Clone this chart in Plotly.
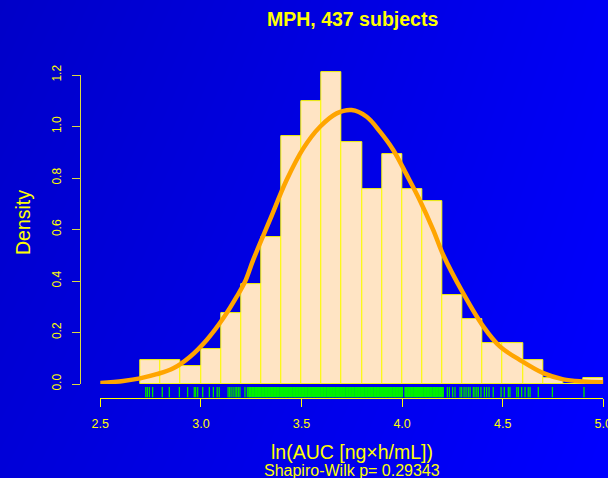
import plotly.graph_objects as go

# ---- data ----
bin_left = [2.7, 2.8, 2.9, 3.0, 3.1, 3.2, 3.3, 3.4, 3.5, 3.6, 3.7, 3.8,
            3.9, 4.0, 4.1, 4.2, 4.3, 4.4, 4.5, 4.6, 4.7, 4.8, 4.9]
bin_counts = [4, 4, 3, 6, 12, 17, 25, 42, 48, 53, 41, 33,
              39, 33, 31, 15, 11, 7, 7, 4, 1, 0, 1]
n_subjects = 437
bin_width = 0.1

density_x = [2.49, 2.614, 2.697, 2.78, 2.863, 2.946, 3.029, 3.111, 3.178, 3.219,
             3.26, 3.343, 3.426, 3.509, 3.592, 3.675, 3.749, 3.824, 3.89, 3.956,
             4.023, 4.089, 4.155, 4.205, 4.304, 4.404, 4.487, 4.586, 4.702, 4.801,
             4.901, 5.0]
density_y = [0.003, 0.012, 0.022, 0.038, 0.061, 0.106, 0.171, 0.255, 0.339, 0.397,
             0.482, 0.637, 0.792, 0.915, 0.999, 1.051, 1.064, 1.038, 0.98, 0.909,
             0.812, 0.712, 0.598, 0.5, 0.352, 0.223, 0.145, 0.093, 0.042, 0.018,
             0.01, 0.007]

rug_sparse = [2.726, 2.734, 2.744, 2.760, 2.808, 2.843, 2.893, 2.934, 2.967, 2.974,
              2.984, 3.009, 3.042, 3.062, 3.081, 3.091, 3.135, 3.142, 3.150, 3.160,
              3.170, 3.178, 3.186, 3.194, 3.219, 3.231,
              4.205, 4.225, 4.235, 4.251, 4.263, 4.288, 4.296, 4.308, 4.318, 4.329,
              4.338, 4.354, 4.362, 4.371, 4.379, 4.392, 4.409, 4.420, 4.432, 4.453,
              4.492, 4.508, 4.528, 4.536, 4.570, 4.578, 4.594, 4.611, 4.627, 4.636,
              4.677, 4.747, 4.904]
rug_dense = [3.240, 3.247, 3.255, 3.262, 3.270, 3.276, 3.284, 3.291, 3.298, 3.306,
             3.313, 3.321, 3.328, 3.335, 3.343, 3.350, 3.357, 3.364, 3.372, 3.379,
             3.386, 3.394, 3.401, 3.408, 3.416, 3.423, 3.430, 3.438, 3.445, 3.452,
             3.460, 3.467, 3.474, 3.482, 3.489, 3.496, 3.503, 3.511, 3.518, 3.525,
             3.533, 3.540, 3.547, 3.555, 3.562, 3.569, 3.577, 3.584, 3.591, 3.598,
             3.606, 3.613, 3.620, 3.628, 3.635, 3.642, 3.650, 3.657, 3.664, 3.672,
             3.679, 3.686, 3.693, 3.701, 3.708, 3.715, 3.723, 3.730, 3.737, 3.745,
             3.752, 3.759, 3.767, 3.774, 3.781, 3.789, 3.796, 3.803, 3.810, 3.818,
             3.825, 3.832, 3.840, 3.847, 3.854, 3.862, 3.869, 3.876, 3.884, 3.891,
             3.898, 3.905, 3.913, 3.920, 3.927, 3.935, 3.942, 3.949, 3.957, 3.964,
             3.971, 3.979, 3.986, 3.993, 4.000, 4.016, 4.023, 4.030, 4.038, 4.045,
             4.052, 4.060, 4.067, 4.074, 4.081, 4.089, 4.096, 4.103, 4.111, 4.118,
             4.125, 4.133, 4.140, 4.147, 4.155, 4.162, 4.169, 4.176, 4.184, 4.191,
             4.198]

x_ticks = [2.5, 3.0, 3.5, 4.0, 4.5, 5.0]
y_ticks = [0.0, 0.2, 0.4, 0.6, 0.8, 1.0, 1.2]

title_text = "MPH, 437 subjects"
xlabel_text = "ln(AUC [ng\u00d7h/mL])"
sub_text = "Shapiro-Wilk p= 0.29343"
ylabel_text = "Density"

# ---- figure ----
W, H = 608, 478
FONT = "Liberation Sans, Arial, sans-serif"
YEL = "#FFFF00"

def px_x(p):
    return p / W

def px_y(p):
    return (H - p) / H

fig = go.Figure()

# background gradient (own subplot x/y, drawn first)
fig.add_trace(go.Heatmap(z=[[0.3, 1.0], [0.0, 0.8]], x=[0, 1], y=[0, 1],
                         zsmooth="best", showscale=False, hoverinfo="skip",
                         colorscale=[[0, "#0000C8"], [1, "#0000FF"]],
                         xaxis="x", yaxis="y"))

bar_x = [b + bin_width / 2 for b in bin_left]
bar_y = [c / (n_subjects * bin_width) for c in bin_counts]
fig.add_trace(go.Bar(x=bar_x, y=bar_y, width=bin_width,
                     marker=dict(color="#FFE4C4", line=dict(color=YEL, width=1)),
                     xaxis="x2", yaxis="y2", showlegend=False))

fig.add_trace(go.Scatter(x=density_x, y=density_y, mode="lines",
                         line=dict(color="#FFA500", width=4.5, shape="spline"),
                         xaxis="x2", yaxis="y2", showlegend=False))

def rug_xy(vals):
    xs, ys = [], []
    for v in vals:
        xs += [v, v, None]
        ys += [0, 1, None]
    return xs, ys

rx, ry = rug_xy(rug_sparse)
fig.add_trace(go.Scatter(x=rx, y=ry, mode="lines", line=dict(color="#00E000", width=1.3),
                         xaxis="x2", yaxis="y3", showlegend=False))
rx, ry = rug_xy(rug_dense)
fig.add_trace(go.Scatter(x=rx, y=ry, mode="lines", line=dict(color="#00F000", width=2),
                         xaxis="x2", yaxis="y3", showlegend=False))

# empty trace to materialise decorative y axis
fig.add_trace(go.Scatter(x=[], y=[], xaxis="x2", yaxis="y4", showlegend=False))

x_lo, x_hi = 100.3, 603.3
y0_px, ppu = 384.0, 257.5

fig.update_layout(
    template="none",
    width=W, height=H,
    margin=dict(l=0, r=0, t=0, b=0, pad=0, autoexpand=False),
    paper_bgcolor="#0000DD",
    plot_bgcolor="rgba(0,0,0,0)",
    showlegend=False,
    bargap=0,
    font=dict(family=FONT, color=YEL),
    xaxis=dict(domain=[0, 1], range=[0, 1], visible=False, fixedrange=True, automargin=False),
    yaxis=dict(domain=[0, 1], range=[0, 1], visible=False, fixedrange=True, automargin=False),
    xaxis2=dict(domain=[px_x(x_lo), px_x(x_hi)], range=[2.5, 5.0], anchor="y3",
                showline=True, linecolor=YEL, linewidth=1, showgrid=False, zeroline=False,
                ticks="outside", ticklen=8, tickcolor=YEL, tickwidth=1, automargin=False,
                tickvals=x_ticks, ticktext=[f"{v:.1f}" for v in x_ticks],
                ticklabeloverflow="allow",
                tickfont=dict(size=12.5, color=YEL, family=FONT), ticklabelstandoff=6),
    yaxis2=dict(domain=[px_y(y0_px), px_y(y0_px - 1.25 * ppu)], range=[0, 1.25],
                anchor="x2", visible=False, showgrid=False, zeroline=False, automargin=False),
    yaxis3=dict(domain=[px_y(397.5), px_y(387)], range=[0, 1], anchor="x2",
                visible=False, showgrid=False, zeroline=False, automargin=False),
    yaxis4=dict(domain=[px_y(y0_px), px_y(y0_px - 1.2 * ppu)], range=[0, 1.2],
                anchor="free", position=px_x(80), showline=True, linecolor="#D8D840",
                linewidth=1, showgrid=False, zeroline=False, automargin=False,
                ticks="outside", ticklen=8, tickcolor="#D8D840", tickwidth=1,
                tickvals=y_ticks, ticktext=[f"{v:.1f}" for v in y_ticks],
                tickangle=-90, tickfont=dict(size=12, color=YEL, family=FONT),
                ticklabelstandoff=6),
    annotations=[
        dict(text=f"<b>{title_text}</b>", x=px_x(352), y=px_y(19), xref="paper", yref="paper",
             showarrow=False, xanchor="center", yanchor="middle",
             font=dict(size=19.5, color=YEL, family=FONT)),
        dict(text=ylabel_text, x=px_x(23), y=px_y(223), xref="paper", yref="paper",
             showarrow=False, xanchor="center", yanchor="middle", textangle=-90,
             font=dict(size=19.5, color=YEL, family=FONT)),
        dict(text=xlabel_text, x=px_x(352), y=px_y(452), xref="paper", yref="paper",
             showarrow=False, xanchor="center", yanchor="middle",
             font=dict(size=19.5, color=YEL, family=FONT)),
        dict(text=sub_text, x=px_x(352), y=px_y(470), xref="paper", yref="paper",
             showarrow=False, xanchor="center", yanchor="middle",
             font=dict(size=16, color=YEL, family=FONT)),
    ],
)

fig.write_html("out.html")
